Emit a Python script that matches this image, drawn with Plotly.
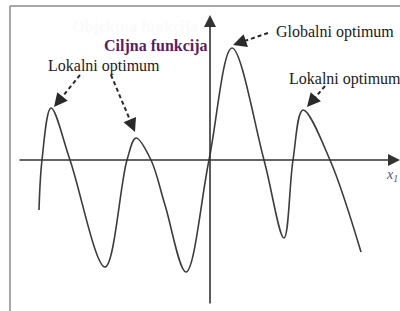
import plotly.graph_objects as go

# Curve sample points (origin = axes intersection)
curve_x = [-171, -168, -159, -140, -105, -83, -74, -59, -45, -24, -1, 22, 54, 74, 83, 93, 120, 151]
curve_y = [-50, 0, 52, 0, -107, 0, 22, 0, -45, -112, 0, 112, 0, -78, 0, 50, 0, -92]

# Annotation texts
labels = ["Lokalni optimum", "Globalni optimum", "Lokalni optimum"]
title_text = "Ciljna funkcija"
ghost_text = "Objektna funkcija"
axis_label = "<i>x</i><sub><i>1</i></sub>"

X0, X1 = -210, 190
Y0, Y1 = -151, 160

fig = go.Figure()

fig.add_trace(go.Scatter(
    x=curve_x, y=curve_y, mode="lines",
    line=dict(color="#3c3c3c", width=1.6, shape="spline", smoothing=1.0),
    hoverinfo="skip", showlegend=False))

# dashed arrow shafts (tail -> tip)
arrows = [((-130, 85), (-156, 53)),
          ((-99, 85), (-75, 28)),
          ((58, 127), (23, 115)),
          ((115, 74), (97, 53))]
for (tx, ty), (hx, hy) in arrows:
    dx, dy = hx - tx, hy - ty
    L = (dx * dx + dy * dy) ** 0.5
    fig.add_trace(go.Scatter(
        x=[tx, hx - dx / L * 5], y=[ty, hy - dy / L * 5], mode="lines",
        line=dict(color="#2a2a2a", width=2, dash="4px,3px"),
        hoverinfo="skip", showlegend=False))
    fig.add_annotation(x=hx, y=hy, ax=hx - dx / L * 8, ay=hy - dy / L * 8,
                       xref="x", yref="y", axref="x", ayref="y",
                       text="", showarrow=True, arrowhead=2, arrowsize=1.5,
                       arrowwidth=1.8, arrowcolor="#2a2a2a", standoff=0)

# axes with arrowheads
fig.add_annotation(x=190, y=0, ax=-192, ay=0, xref="x", yref="y", axref="x", ayref="y",
                   text="", showarrow=True, arrowhead=2, arrowsize=1.5, arrowwidth=1.6,
                   arrowcolor="#333333", standoff=0)
fig.add_annotation(x=0, y=145, ax=0, ay=-145, xref="x", yref="y", axref="x", ayref="y",
                   text="", showarrow=True, arrowhead=2, arrowsize=1.5, arrowwidth=1.6,
                   arrowcolor="#333333", standoff=0)

serif = "Liberation Serif"
fig.add_annotation(x=-140, y=133, xref="x", yref="y", text="<b>" + ghost_text + "</b>", showarrow=False,
                   xanchor="left", yanchor="middle", font=dict(family=serif, size=16, color="#fafafa"))
fig.add_annotation(x=-164, y=94, xref="x", yref="y", text=labels[0], showarrow=False,
                   xanchor="left", yanchor="middle", font=dict(family=serif, size=16, color="#1a1a1a"))
fig.add_annotation(x=64, y=128, xref="x", yref="y", text=labels[1], showarrow=False,
                   xanchor="left", yanchor="middle", font=dict(family=serif, size=16, color="#1a1a1a"))
fig.add_annotation(x=77, y=81, xref="x", yref="y", text=labels[2], showarrow=False,
                   xanchor="left", yanchor="middle", font=dict(family=serif, size=16, color="#1a1a1a"))
fig.add_annotation(x=-108, y=114, xref="x", yref="y", text="<b>" + title_text + "</b>", showarrow=False,
                   xanchor="left", yanchor="middle", font=dict(family=serif, size=16, color="#5a1e5e"))
fig.add_annotation(x=174, y=-15, xref="x", yref="y", text=axis_label, showarrow=False,
                   xanchor="left", yanchor="middle", font=dict(family=serif, size=14, color="#4a5878"))

# frame (left and top edges)
fig.add_shape(type="line", xref="paper", yref="paper", x0=10/400, x1=10/400, y0=0, y1=1 - 6/311,
              line=dict(color="#8a8a8a", width=1.5))
fig.add_shape(type="line", xref="paper", yref="paper", x0=10/400, x1=1, y0=1 - 6/311, y1=1 - 6/311,
              line=dict(color="#8a8a8a", width=1.5))

fig.update_layout(
    width=400, height=311, margin=dict(l=0, r=0, t=0, b=0),
    paper_bgcolor="white", plot_bgcolor="white",
    xaxis=dict(range=[X0, X1], visible=False, fixedrange=True),
    yaxis=dict(range=[Y0, Y1], visible=False, fixedrange=True),
    showlegend=False)

fig.write_html("out.html", config={"displayModeBar": False},
               post_script="document.body.style.margin='0';document.body.style.overflow='hidden';")
